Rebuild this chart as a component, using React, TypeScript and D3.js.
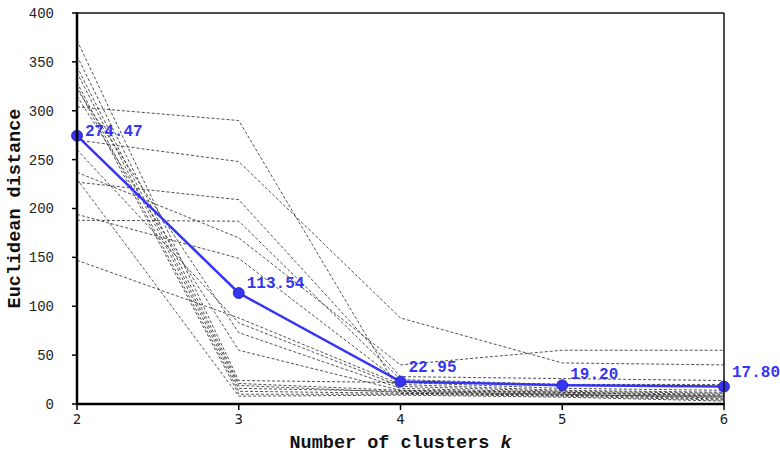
import React from "react";
import * as d3 from "d3";

const ks = [2, 3, 4, 5, 6];
const yTicks = [0, 50, 100, 150, 200, 250, 300, 350, 400];

// individual runs (gray dashed)
const runs: number[][] = [
  [304, 290, 11, 9, 8],
  [270, 248, 88, 42, 40],
  [227, 209, 28, 26, 24],
  [188, 187, 25, 20, 18],
  [237, 170, 40, 55, 55],
  [194, 149, 22, 16, 14],
  [147, 88, 20, 14, 12],
  [260, 83, 18, 13, 11],
  [322, 73, 16, 12, 10],
  [315, 55, 14, 11, 9],
  [372, 24, 22, 20, 20],
  [356, 21, 14, 12, 8],
  [345, 19, 12, 10, 6],
  [339, 16, 13, 10, 7],
  [329, 13, 11, 9, 5],
  [325, 10, 10, 8, 4],
  [230, 8, 9, 7, 3],
];

// mean curve (blue)
const meanValues = [274.47, 113.54, 22.95, 19.2, 17.8];
const labelDy = [0, -5, -10, -6, -10];

const W = 780;
const H = 453;
const left = 77;
const right = 724;
const top = 13;
const bottom = 404;

export default function App() {
  const x = d3.scaleLinear().domain([2, 6]).range([left, right]);
  const y = d3.scaleLinear().domain([0, 400]).range([bottom, top]);
  const line = d3
    .line<number>()
    .x((_, i) => x(ks[i]))
    .y((d) => y(d));
  const blue = "#3535f2";
  const mono = "'Liberation Mono', 'Courier New', monospace";

  return (
    <svg
      width={W}
      height={H}
      style={{ position: "absolute", left: 0, top: 0, background: "#fff" }}
    >
      <rect x={0} y={0} width={W} height={H} fill="#fff" />
      {runs.map((r, i) => (
        <path
          key={i}
          d={line(r) || ""}
          fill="none"
          stroke="#333"
          strokeWidth={0.85}
          strokeDasharray="3,2"
        />
      ))}
      <path d={line(meanValues) || ""} fill="none" stroke={blue} strokeWidth={2.5} />
      {meanValues.map((v, i) => (
        <circle
          key={i}
          cx={x(ks[i])}
          cy={y(v)}
          r={5.5}
          fill={blue}
          stroke="#2222aa"
          strokeWidth={0.8}
        />
      ))}
      {meanValues.map((v, i) => (
        <text
          key={i}
          x={x(ks[i]) + 8}
          y={y(v) + labelDy[i]}
          fill={blue}
          fontFamily={mono}
          fontWeight="bold"
          fontSize={16}
        >
          {v.toFixed(2)}
        </text>
      ))}
      {/* frame */}
      <line x1={left} x2={right} y1={top} y2={top} stroke="#111" strokeWidth={1.5} />
      <line x1={right} x2={right} y1={top} y2={bottom} stroke="#111" strokeWidth={1.5} />
      <line x1={left} x2={left} y1={top - 0.75} y2={bottom + 1} stroke="#000" strokeWidth={2.5} />
      <line x1={left - 1} x2={right + 0.75} y1={bottom} y2={bottom} stroke="#000" strokeWidth={2.5} />
      {/* y ticks */}
      {yTicks.map((t) => (
        <g key={t}>
          <line x1={left - 5} x2={left} y1={y(t)} y2={y(t)} stroke="#000" strokeWidth={1.5} />
          <text
            x={54}
            y={y(t)}
            dy="0.35em"
            textAnchor="end"
            fontFamily={mono}
            fontSize={14}
            fill="#222"
          >
            {t}
          </text>
        </g>
      ))}
      {/* x ticks */}
      {ks.map((k) => (
        <g key={k}>
          <line x1={x(k)} x2={x(k)} y1={bottom} y2={bottom + 6} stroke="#000" strokeWidth={1.5} />
          <text
            x={x(k)}
            y={424}
            textAnchor="middle"
            fontFamily="'DejaVu Sans Mono', monospace"
            fontSize={14}
            fill="#222"
          >
            {k}
          </text>
        </g>
      ))}
      <text
        x={(left + right) / 2}
        y={448}
        textAnchor="middle"
        fontFamily={mono}
        fontWeight="bold"
        fontSize={18.5}
        fill="#111"
      >
        Number of clusters <tspan fontStyle="italic">k</tspan>
      </text>
      <text
        transform={`translate(20, ${(top + bottom) / 2}) rotate(-90)`}
        textAnchor="middle"
        fontFamily={mono}
        fontWeight="bold"
        fontSize={18.5}
        fill="#111"
      >
        Euclidean distance
      </text>
    </svg>
  );
}
